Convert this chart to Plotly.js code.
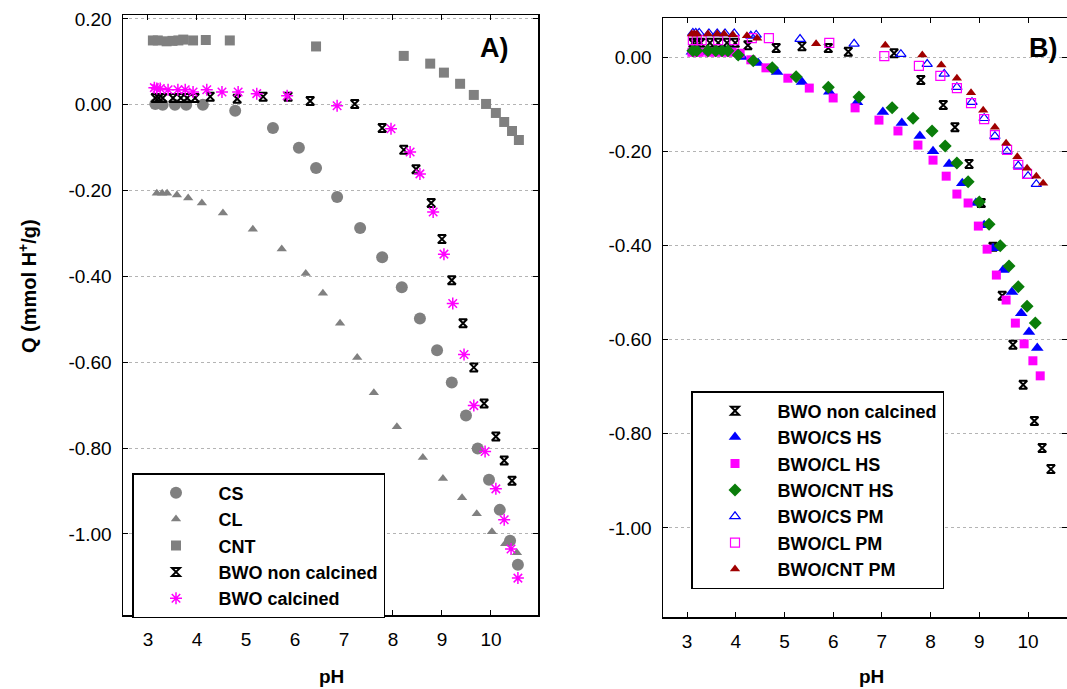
<!DOCTYPE html>
<html>
<head>
<meta charset="utf-8">
<script src="https://cdn.plot.ly/plotly-3.0.1.min.js"></script>
<style>html,body{margin:0;padding:0;background:#fff;}#chart{width:1067px;height:689px;}</style>
</head>
<body>
<div id="chart"></div>
<script>
// ---------- Panel A data ----------
const csX = [3.15, 3.30, 3.55, 3.78, 4.12, 4.78, 5.55, 6.08, 6.43, 6.86, 7.33, 7.78, 8.18, 8.55, 8.90, 9.20, 9.49, 9.73, 9.96, 10.18, 10.39, 10.55];
const csY = [0.002, 0.0, 0.0, 0.0, 0.0, -0.014, -0.054, -0.100, -0.147, -0.215, -0.287, -0.355, -0.425, -0.498, -0.572, -0.647, -0.724, -0.801, -0.874, -0.944, -1.016, -1.072];

const clX = [3.18, 3.29, 3.39, 3.59, 3.82, 4.10, 4.53, 5.14, 5.73, 6.22, 6.57, 6.92, 7.27, 7.61, 8.08, 8.61, 9.02, 9.41, 9.71, 10.02, 10.29, 10.53];
const clY = [-0.206, -0.206, -0.206, -0.210, -0.217, -0.229, -0.252, -0.290, -0.336, -0.393, -0.439, -0.509, -0.589, -0.671, -0.750, -0.822, -0.871, -0.916, -0.953, -0.995, -1.023, -1.044];

const cntX = [3.10, 3.20, 3.38, 3.50, 3.62, 3.72, 3.92, 4.18, 4.67, 6.43, 8.22, 8.76, 9.04, 9.37, 9.65, 9.90, 10.10, 10.27, 10.43, 10.57];
const cntY = [0.150, 0.150, 0.148, 0.149, 0.150, 0.152, 0.150, 0.151, 0.150, 0.136, 0.114, 0.096, 0.075, 0.049, 0.023, 0.002, -0.019, -0.040, -0.061, -0.082];

const bwoNcX = [3.15, 3.22, 3.30, 3.51, 3.67, 3.80, 3.96, 4.27, 4.82, 5.35, 5.86, 6.31, 7.22, 7.78, 8.22, 8.47, 8.78, 9.00, 9.20, 9.43, 9.65, 9.86, 10.10, 10.27, 10.43];
const bwoNcY = [0.016, 0.016, 0.016, 0.016, 0.016, 0.016, 0.016, 0.019, 0.014, 0.019, 0.019, 0.009, 0.002, -0.054, -0.105, -0.150, -0.229, -0.313, -0.409, -0.509, -0.612, -0.696, -0.773, -0.829, -0.876];

const bwoCalX = [3.13, 3.18, 3.25, 3.41, 3.61, 3.76, 3.92, 4.20, 4.51, 4.84, 5.22, 5.84, 6.86, 7.96, 8.35, 8.55, 8.82, 9.04, 9.22, 9.45, 9.65, 9.88, 10.10, 10.27, 10.41, 10.55];
const bwoCalY = [0.040, 0.038, 0.038, 0.035, 0.035, 0.035, 0.030, 0.035, 0.030, 0.030, 0.026, 0.021, -0.002, -0.056, -0.110, -0.161, -0.250, -0.348, -0.463, -0.582, -0.701, -0.808, -0.895, -0.967, -1.035, -1.103];

// ---------- Panel B data ----------
const bNcX = [3.12, 3.20, 3.28, 3.47, 3.64, 3.82, 3.99, 4.25, 4.83, 5.36, 5.90, 6.31, 7.25, 7.80, 8.26, 8.50, 8.79, 9.04, 9.28, 9.47, 9.69, 9.90, 10.13, 10.29, 10.47];
const bNcY = [0.030, 0.030, 0.030, 0.030, 0.030, 0.030, 0.030, 0.025, 0.019, 0.023, 0.019, 0.011, 0.008, -0.049, -0.102, -0.149, -0.227, -0.310, -0.403, -0.507, -0.611, -0.696, -0.773, -0.830, -0.875];

const csHsX = [3.10, 3.18, 3.25, 3.45, 3.62, 3.78, 3.95, 4.13, 4.46, 4.85, 5.36, 5.92, 6.49, 7.02, 7.41, 7.78, 8.05, 8.38, 8.65, 8.93, 9.10, 9.28, 9.49, 9.67, 9.86, 10.02, 10.19];
const csHsY = [0.011, 0.011, 0.011, 0.011, 0.011, 0.011, 0.010, 0.000, -0.013, -0.032, -0.053, -0.074, -0.096, -0.117, -0.140, -0.168, -0.200, -0.227, -0.268, -0.310, -0.357, -0.406, -0.452, -0.499, -0.544, -0.584, -0.618];

const clHsX = [3.10, 3.18, 3.25, 3.45, 3.62, 3.78, 3.92, 4.09, 4.31, 4.62, 5.07, 5.51, 6.00, 6.45, 6.94, 7.33, 7.74, 8.05, 8.32, 8.54, 8.77, 8.98, 9.16, 9.35, 9.55, 9.74, 9.92, 10.10, 10.25];
const clHsY = [0.010, 0.010, 0.010, 0.010, 0.010, 0.010, 0.010, 0.008, -0.006, -0.023, -0.045, -0.066, -0.087, -0.108, -0.134, -0.157, -0.187, -0.219, -0.253, -0.291, -0.310, -0.359, -0.408, -0.463, -0.516, -0.565, -0.609, -0.645, -0.677];

const cntHsX = [3.12, 3.20, 3.43, 3.59, 3.72, 3.84, 4.05, 4.36, 4.75, 5.24, 5.90, 6.53, 7.21, 7.64, 8.03, 8.30, 8.54, 8.77, 9.00, 9.20, 9.43, 9.61, 9.80, 9.98, 10.15];
const cntHsY = [0.013, 0.013, 0.013, 0.013, 0.013, 0.013, 0.004, -0.008, -0.023, -0.042, -0.064, -0.085, -0.108, -0.130, -0.157, -0.189, -0.225, -0.265, -0.308, -0.355, -0.401, -0.444, -0.488, -0.529, -0.565];

const csPmX = [3.12, 3.18, 3.25, 3.45, 3.62, 3.78, 3.97, 4.31, 4.42, 5.32, 6.43, 7.39, 7.93, 8.28, 8.54, 8.85, 9.10, 9.32, 9.57, 9.80, 10.00, 10.17];
const csPmY = [0.051, 0.051, 0.051, 0.050, 0.050, 0.050, 0.050, 0.045, 0.047, 0.038, 0.028, 0.006, -0.015, -0.036, -0.064, -0.096, -0.130, -0.168, -0.200, -0.231, -0.253, -0.270];

const clPmX = [3.12, 3.20, 3.30, 3.64, 3.97, 4.33, 4.68, 5.92, 7.05, 7.76, 8.20, 8.54, 8.83, 9.10, 9.32, 9.57, 9.80, 9.98];
const clPmY = [0.036, 0.036, 0.036, 0.036, 0.036, 0.040, 0.040, 0.030, 0.002, -0.019, -0.040, -0.066, -0.098, -0.132, -0.166, -0.197, -0.229, -0.248];

const cntPmX = [3.10, 3.15, 3.20, 3.43, 3.62, 3.76, 3.94, 4.23, 4.44, 5.65, 7.07, 7.83, 8.22, 8.54, 8.83, 9.08, 9.32, 9.55, 9.78, 9.98, 10.17, 10.31];
const cntPmY = [0.049, 0.049, 0.049, 0.049, 0.049, 0.049, 0.047, 0.045, 0.040, 0.028, 0.025, 0.004, -0.017, -0.045, -0.076, -0.113, -0.149, -0.183, -0.212, -0.236, -0.253, -0.268];

// ---------- tick labels ----------
const xTickVals = [3, 4, 5, 6, 7, 8, 9, 10];
const xTickText = ["3", "4", "5", "6", "7", "8", "9", "10"];
const yTickValsA = [0.2, 0, -0.2, -0.4, -0.6, -0.8, -1.0];
const yTickTextA = ["0.20", "0.00", "-0.20", "-0.40", "-0.60", "-0.80", "-1.00"];
const yTickValsB = [0, -0.2, -0.4, -0.6, -0.8, -1.0];
const yTickTextB = ["0.00", "-0.20", "-0.40", "-0.60", "-0.80", "-1.00"];

const FONT = "Liberation Sans, Arial, Helvetica, sans-serif";
const GRAY = "#808080";

function tr(x, y, name, marker, axes, legend) {
  return {x: x, y: y, name: name, type: "scatter", mode: "markers", marker: marker,
          xaxis: axes[0], yaxis: axes[1], legend: legend};
}
const A = ["x", "y"], B = ["x2", "y2"];
const ncMarker = {symbol: "hourglass-open", size: 8, color: "#000", line: {color: "#000", width: 2}};

const data = [
  tr(csX, csY, "CS", {symbol: "circle", size: 12, color: GRAY}, A, "legend"),
  tr(clX, clY, "CL", {symbol: "triangle-up", size: 9, color: GRAY}, A, "legend"),
  tr(cntX, cntY, "CNT", {symbol: "square", size: 10, color: GRAY}, A, "legend"),
  tr(bwoNcX, bwoNcY, "BWO non calcined", ncMarker, A, "legend"),
  tr(bwoCalX, bwoCalY, "BWO calcined", {symbol: "asterisk-open", size: 10, color: "#ff00ff", line: {color: "#ff00ff", width: 1.5}}, A, "legend"),

  tr(bNcX, bNcY, "BWO non calcined", ncMarker, B, "legend2"),
  tr(csHsX, csHsY, "BWO/CS HS", {symbol: "triangle-up", size: 11, color: "#0000ff"}, B, "legend2"),
  tr(clHsX, clHsY, "BWO/CL HS", {symbol: "square", size: 9, color: "#ff00ff"}, B, "legend2"),
  tr(cntHsX, cntHsY, "BWO/CNT HS", {symbol: "diamond", size: 10, color: "#0a7d0a"}, B, "legend2"),
  tr(csPmX, csPmY, "BWO/CS PM", {symbol: "triangle-up-open", size: 9, color: "#0000ff", line: {color: "#0000ff", width: 1.2}}, B, "legend2"),
  tr(clPmX, clPmY, "BWO/CL PM", {symbol: "square-open", size: 9, color: "#ff00ff", line: {color: "#ff00ff", width: 1.2}}, B, "legend2"),
  tr(cntPmX, cntPmY, "BWO/CNT PM", {symbol: "triangle-up", size: 9, color: "#a00000"}, B, "legend2")
];

const W = 1067, H = 689;
const axBase = {
  showline: true, linecolor: "#000", linewidth: 1.5, mirror: "ticks",
  ticks: "inside", ticklen: 5, tickwidth: 1, tickcolor: "#000",
  tickfont: {family: FONT, size: 19, color: "#000"}, zeroline: false, automargin: false
};
const xa = Object.assign({}, axBase, {showgrid: false, tickmode: "array", tickvals: xTickVals, ticktext: xTickText, ticklabelstandoff: 7});
const ya = Object.assign({}, axBase, {showgrid: true, gridcolor: "#b4b4b4", griddash: "dot", gridwidth: 1, tickmode: "array", ticklabelstandoff: 6});

const legBase = {
  bgcolor: "#fff", bordercolor: "#000", borderwidth: 1.5,
  font: {family: FONT, size: 18, color: "#000", weight: "bold"},
  xanchor: "left", yanchor: "top", itemwidth: 75, traceorder: "normal"
};

const layout = {
  width: W, height: H,
  margin: {l: 0, r: 0, t: 0, b: 0},
  paper_bgcolor: "#fff", plot_bgcolor: "#fff",
  showlegend: true,
  xaxis: Object.assign({}, xa, {domain: [123 / W, 538 / W], range: [2.49, 10.96], anchor: "y"}),
  yaxis: Object.assign({}, ya, {domain: [1 - 615 / H, 1 - 15 / H], range: [-1.189, 0.2093], tickvals: yTickValsA, ticktext: yTickTextA, anchor: "x"}),
  xaxis2: Object.assign({}, xa, {domain: [663 / W, 1], range: [2.507, 10.80], anchor: "y2"}),
  yaxis2: Object.assign({}, ya, {domain: [1 - 617 / H, 1 - 18 / H], range: [-1.189, 0.0828], tickvals: yTickValsB, ticktext: yTickTextB, anchor: "x2"}),
  legend: Object.assign({}, legBase, {x: 132 / W, y: 1 - 473 / H}),
  legend2: Object.assign({}, legBase, {x: 691 / W, y: 1 - 391 / H}),
  annotations: [
    {text: "Q (mmol H<sup>+</sup>/g)", xref: "paper", yref: "paper", x: 27 / W, y: 1 - 286 / H, showarrow: false, textangle: -90,
     font: {family: FONT, size: 20, color: "#000", weight: "bold"}, xanchor: "center", yanchor: "middle"},
    {text: "pH", xref: "paper", yref: "paper", x: 331 / W, y: 1 - 676 / H, showarrow: false,
     font: {family: FONT, size: 19, color: "#000", weight: "bold"}, xanchor: "center", yanchor: "middle"},
    {text: "pH", xref: "paper", yref: "paper", x: 871 / W, y: 1 - 676 / H, showarrow: false,
     font: {family: FONT, size: 19, color: "#000", weight: "bold"}, xanchor: "center", yanchor: "middle"},
    {text: "A)", xref: "paper", yref: "paper", x: 494 / W, y: 1 - 48 / H, showarrow: false,
     font: {family: FONT, size: 27, color: "#000", weight: "bold"}, xanchor: "center", yanchor: "middle"},
    {text: "B)", xref: "paper", yref: "paper", x: 1043 / W, y: 1 - 48 / H, showarrow: false,
     font: {family: FONT, size: 27, color: "#000", weight: "bold"}, xanchor: "center", yanchor: "middle"}
  ]
};

Plotly.newPlot("chart", data, layout, {displayModeBar: false, staticPlot: true});
</script>
</body>
</html>
